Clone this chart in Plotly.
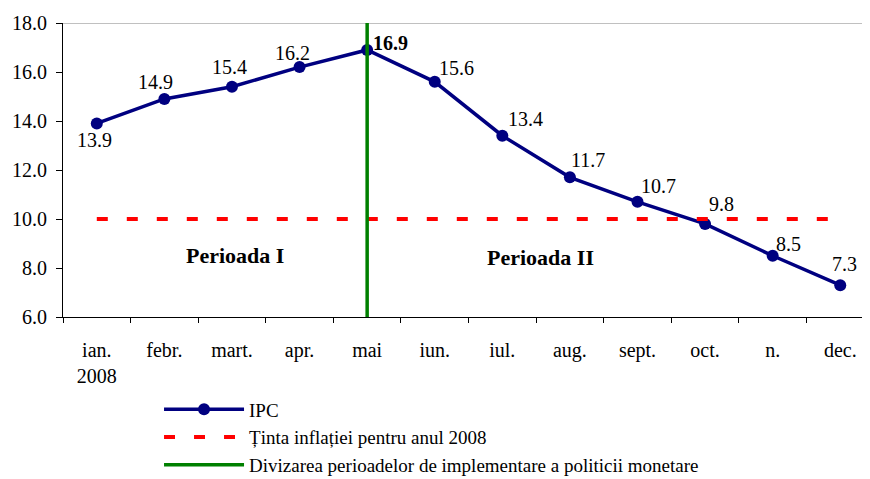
import plotly.graph_objects as go

months = ["ian.<br>2008", "febr.", "mart.", "apr.", "mai", "iun.", "iul.", "aug.", "sept.", "oct.", "n.", "dec."]
ipc = [13.9, 14.9, 15.4, 16.2, 16.9, 15.6, 13.4, 11.7, 10.7, 9.8, 8.5, 7.3]
target = [10.0] * 12
split_month = "mai"
split_y = [6.0, 18.0]

# label offsets (pixels) relative to each point
label_dx = [-2, -9, -2, -7, 23, 22, 23, 18, 21, 16, 16, 4]
label_dy = [-17, 17, 20, 14, 7, 14, 17, 17, 16, 20, 12, 21]

FONT = "Liberation Serif"

fig = go.Figure()
fig.add_trace(go.Scatter(
    x=months, y=ipc, mode="lines+markers", name="IPC",
    line=dict(color="#000080", width=3.5), marker=dict(size=12, color="#000080")))
fig.add_trace(go.Scatter(
    x=months, y=target, mode="lines", name="Ținta inflației pentru anul 2008",
    line=dict(color="#ff0000", width=4, dash="11px,19px")))
fig.add_trace(go.Scatter(
    x=[split_month, split_month], y=split_y, mode="lines",
    name="Divizarea perioadelor de implementare a politicii monetare",
    line=dict(color="#008000", width=3.5)))

for m, v, dx, dy in zip(months, ipc, label_dx, label_dy):
    txt = f"<b>{v:.1f}</b>" if v == max(ipc) else f"{v:.1f}"
    fig.add_annotation(x=m, y=v, text=txt, showarrow=False, xshift=dx, yshift=dy,
                       font=dict(family=FONT, size=20, color="black"))

fig.add_shape(type="line", xref="paper", yref="y", x0=0, x1=1, y0=18, y1=18,
              line=dict(color="#c0c0c0", width=2), layer="below")

fig.add_annotation(x=2.04, y=8.5, text="<b>Perioada I</b>", showarrow=False,
                   font=dict(family=FONT, size=22, color="black"))
fig.add_annotation(x=6.56, y=8.42, text="<b>Perioada II</b>", showarrow=False,
                   font=dict(family=FONT, size=22, color="black"))

# page body has an 8px margin, so the figure is sized/offset to compensate
fig.update_layout(
    width=862, height=471,
    margin=dict(l=55, r=0, t=15, b=162),
    paper_bgcolor="white", plot_bgcolor="white",
    font=dict(family=FONT, size=20, color="black"),
    showlegend=True,
    legend=dict(x=0.119, y=0.188, xanchor="left", yanchor="top", yref="container",
                font=dict(family=FONT, size=19), itemwidth=80,
                tracegroupgap=0, bgcolor="rgba(0,0,0,0)"),
)
fig.update_xaxes(
    type="category", range=[-0.5, 11.44], showgrid=False, automargin=False,
    showline=True, linecolor="black", linewidth=1,
    ticks="outside", tickson="boundaries", ticklen=5, tickcolor="black",
    ticklabelstandoff=15, tickfont=dict(family=FONT, size=20))
fig.update_yaxes(
    range=[6, 18], dtick=2, tickformat=".1f", showgrid=False, zeroline=False,
    automargin=False,
    showline=True, linecolor="black", linewidth=1,
    ticks="outside", ticklen=6, tickcolor="black", ticklabelstandoff=5,
    tickfont=dict(family=FONT, size=20))

fig.write_html("out.html")
